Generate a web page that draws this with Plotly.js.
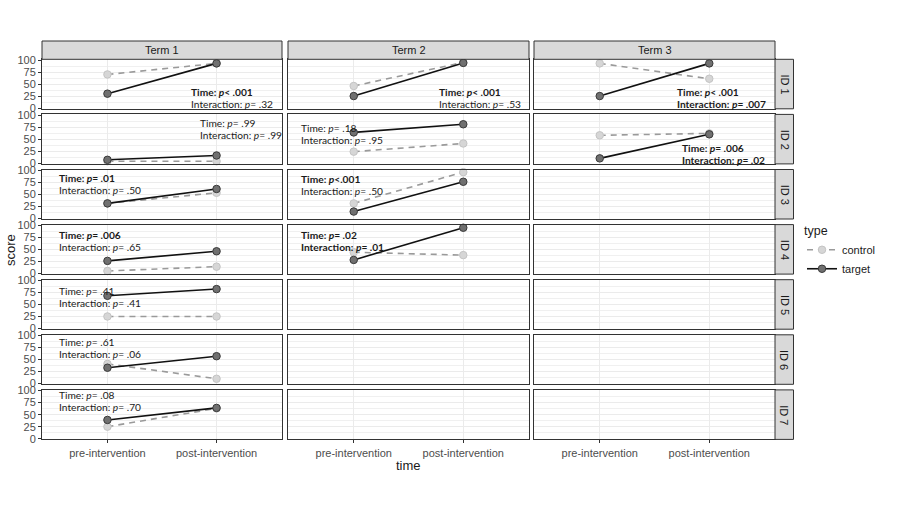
<!DOCTYPE html>
<html><head><meta charset="utf-8">
<script src="https://cdn.plot.ly/plotly-3.0.1.min.js"></script>
<style>html,body{margin:0;padding:0;background:#fff}</style>
</head><body><div id="chart" style="width:902px;height:512px"></div>
<script>
// ---------- data ----------
const terms = ['Term 1', 'Term 2', 'Term 3'];
const ids = ['ID 1', 'ID 2', 'ID 3', 'ID 4', 'ID 5', 'ID 6', 'ID 7'];
const timeLabels = ['pre-intervention', 'post-intervention'];
const typeNames = ['control', 'target'];
const yTickVals = [0, 25, 50, 75, 100];

// Term 1 (ID 1..7)
const t1ControlPre  = [70, 4, 31, 5, 25, 41, 25];
const t1ControlPost = [93, 4, 53, 14, 25, 10, 63];
const t1TargetPre   = [30, 7, 31, 26, 68, 33, 39];
const t1TargetPost  = [93, 16, 61, 46, 82, 57, 64];
// Term 2 (ID 1..4)
const t2ControlPre  = [46, 24, 31, 44];
const t2ControlPost = [95, 41, 96, 38];
const t2TargetPre   = [25, 64, 14, 28];
const t2TargetPost  = [94, 81, 76, 95];
// Term 3 (ID 1..2)
const t3ControlPre  = [93, 58];
const t3ControlPost = [61, 62];
const t3TargetPre   = [25, 10];
const t3TargetPost  = [93, 60];

// statistics text per panel
const statTerm   = [0, 0, 1, 1, 2, 2, 0, 1, 0, 1, 0, 0, 0];
const statId     = [0, 1, 0, 1, 0, 1, 2, 2, 3, 3, 4, 5, 6];
const timeP      = ['< .001', '= .99', '< .001', '= .18', '< .001', '= .006', '= .01', '<.001', '= .006', '= .02', '= .41', '= .61', '= .08'];
const interP     = ['= .32', '= .99', '= .53', '= .95', '= .007', '= .02', '= .50', '= .50', '= .65', '= .01', '= .41', '= .06', '= .70'];
const timeBold   = [true, false, true, false, true, true, true, true, true, true, false, false, false];
const interBold  = [false, false, false, false, true, true, false, false, false, true, false, false, false];
// label anchor (left x, first line y) in pixels
const statPos = [[189, 92], [198, 123], [437, 92], [299, 128], [675, 92], [680, 148],
                 [57, 178], [299, 179], [57, 235], [299, 235], [57, 291], [57, 342], [57, 395]];

// ---------- layout helpers ----------
const W = 902, H = 512;
const colPx = [[42, 282], [288, 529], [534, 775]];
const rowTop = i => 59.3 + 55.1 * i;
const rowH = 49.5;
const px = x => x / W;
const py = y => 1 - y / H;
const FONT = 'Liberation Sans, Arial, sans-serif';
const ANNFONT = 'Lato, Carlito, Liberation Sans, sans-serif';

const termData = [
  {cPre: t1ControlPre, cPost: t1ControlPost, tPre: t1TargetPre, tPost: t1TargetPost},
  {cPre: t2ControlPre, cPost: t2ControlPost, tPre: t2TargetPre, tPost: t2TargetPost},
  {cPre: t3ControlPre, cPost: t3ControlPost, tPre: t3TargetPre, tPost: t3TargetPost}
];

const traces = [];
const layout = {
  width: W, height: H,
  margin: {l: 0, r: 0, t: 0, b: 0},
  paper_bgcolor: '#fff', plot_bgcolor: '#fff',
  font: {family: FONT, color: '#1a1a1a'},
  showlegend: true,
  legend: {
    x: px(802), y: py(219), xanchor: 'left', yanchor: 'top',
    title: {text: 'type', font: {size: 12.5, color: '#1a1a1a', family: FONT}},
    font: {size: 11, color: '#1a1a1a', family: FONT},
    itemwidth: 30, tracegroupgap: 0, bgcolor: 'rgba(0,0,0,0)'
  },
  shapes: [], annotations: []
};

let legendDone = false;
for (let r = 0; r < ids.length; r++) {
  for (let c = 0; c < terms.length; c++) {
    const k = r * 3 + c + 1;
    const xa = 'x' + (k === 1 ? '' : k), ya = 'y' + (k === 1 ? '' : k);
    const xKey = 'xaxis' + (k === 1 ? '' : k), yKey = 'yaxis' + (k === 1 ? '' : k);
    const top = rowTop(r), bot = top + rowH;
    layout[xKey] = {
      domain: [px(colPx[c][0]), px(colPx[c][1])],
      anchor: ya, type: 'category', categoryorder: 'array', categoryarray: timeLabels,
      range: [-0.6, 1.6], fixedrange: true,
      showgrid: true, gridcolor: '#ebebeb', gridwidth: 1, zeroline: false,
      showline: true, mirror: true, linecolor: '#333', linewidth: 1,
      ticks: r === ids.length - 1 ? 'outside' : '', ticklen: 3, tickcolor: '#333',
      showticklabels: r === ids.length - 1,
      tickfont: {size: 11, color: '#4d4d4d', family: FONT}
    };
    layout[yKey] = {
      domain: [py(bot), py(top)],
      anchor: xa, range: [-1.5, 101.5], fixedrange: true,
      tickmode: 'array', tickvals: yTickVals,
      showgrid: true, gridcolor: '#ebebeb', gridwidth: 1, zeroline: false,
      minor: {dtick: 12.5, showgrid: true, gridcolor: '#f0f0f0', gridwidth: 1, tick0: 0},
      showline: true, mirror: true, linecolor: '#333', linewidth: 1,
      ticks: c === 0 ? 'outside' : '', ticklen: 3, tickcolor: '#333',
      showticklabels: c === 0,
      tickfont: {size: 11, color: '#4d4d4d', family: FONT}
    };
    const d = termData[c];
    if (r < d.tPre.length) {
      traces.push({
        x: timeLabels, y: [d.cPre[r], d.cPost[r]], xaxis: xa, yaxis: ya,
        type: 'scatter', mode: 'lines+markers', name: typeNames[0], legendgroup: 'c',
        showlegend: !legendDone, cliponaxis: false, hoverinfo: 'skip',
        line: {color: '#9a9a9a', width: 1.6, dash: '6px,5px'},
        marker: {size: 7.5, color: '#d6d6d6', line: {color: '#c4c4c4', width: 1}}
      });
      traces.push({
        x: timeLabels, y: [d.tPre[r], d.tPost[r]], xaxis: xa, yaxis: ya,
        type: 'scatter', mode: 'lines+markers', name: typeNames[1], legendgroup: 't',
        showlegend: !legendDone, cliponaxis: false, hoverinfo: 'skip',
        line: {color: '#111', width: 1.6},
        marker: {size: 7.5, color: '#707070', line: {color: '#3a3a3a', width: 1}}
      });
      legendDone = true;
    } else {
      traces.push({
        x: timeLabels, y: [null, null], xaxis: xa, yaxis: ya, type: 'scatter', mode: 'markers',
        showlegend: false, hoverinfo: 'skip', marker: {opacity: 0}
      });
    }
  }
}

// top strips
for (let c = 0; c < terms.length; c++) {
  layout.shapes.push({type: 'rect', xref: 'paper', yref: 'paper',
    x0: px(colPx[c][0]), x1: px(colPx[c][1]), y0: py(59.3), y1: py(41),
    fillcolor: '#d9d9d9', line: {color: '#333', width: 1}, layer: 'above'});
  layout.annotations.push({xref: 'paper', yref: 'paper', x: px((colPx[c][0] + colPx[c][1]) / 2), y: py(50.3),
    text: terms[c], showarrow: false, xanchor: 'center', yanchor: 'middle',
    font: {size: 11, color: '#1a1a1a', family: FONT}});
}
// right strips
for (let r = 0; r < ids.length; r++) {
  const top = rowTop(r), bot = top + rowH;
  layout.shapes.push({type: 'rect', xref: 'paper', yref: 'paper',
    x0: px(775), x1: px(793.5), y0: py(bot), y1: py(top),
    fillcolor: '#d9d9d9', line: {color: '#333', width: 1}, layer: 'above'});
  layout.annotations.push({xref: 'paper', yref: 'paper', x: px(784.5), y: py((top + bot) / 2),
    text: ids[r], showarrow: false, xanchor: 'center', yanchor: 'middle', textangle: 90,
    font: {size: 11, color: '#1a1a1a', family: FONT}});
}
// stats labels
for (let i = 0; i < timeP.length; i++) {
  const [lx, ly] = statPos[i];
  const t1 = 'Time: <i>p</i>' + timeP[i].replace('<', '&lt;');
  const t2 = 'Interaction: <i>p</i>' + interP[i];
  layout.annotations.push({xref: 'paper', yref: 'paper', x: px(lx), y: py(ly),
    text: timeBold[i] ? '<b>' + t1 + '</b>' : t1, showarrow: false, xanchor: 'left', yanchor: 'middle',
    font: {size: 10.2, color: '#1a1a1a', family: ANNFONT}});
  layout.annotations.push({xref: 'paper', yref: 'paper', x: px(lx), y: py(ly + 12),
    text: interBold[i] ? '<b>' + t2 + '</b>' : t2, showarrow: false, xanchor: 'left', yanchor: 'middle',
    font: {size: 10.2, color: '#1a1a1a', family: ANNFONT}});
}
// axis titles
layout.annotations.push({xref: 'paper', yref: 'paper', x: px(408), y: py(465), text: 'time',
  showarrow: false, xanchor: 'center', yanchor: 'middle', font: {size: 13, color: '#1a1a1a', family: FONT}});
layout.annotations.push({xref: 'paper', yref: 'paper', x: px(10), y: py(250), text: 'score', textangle: -90,
  showarrow: false, xanchor: 'center', yanchor: 'middle', font: {size: 13, color: '#1a1a1a', family: FONT}});

Plotly.newPlot('chart', traces, layout, {displayModeBar: false, staticPlot: true});
</script></body></html>
